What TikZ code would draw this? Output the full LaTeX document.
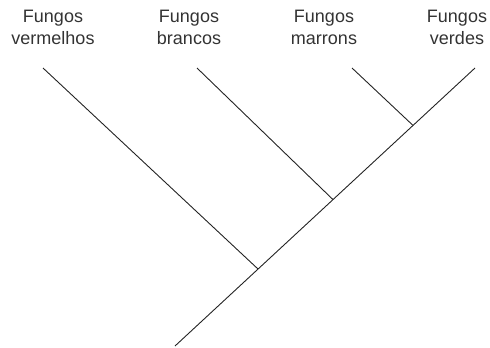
\documentclass[tikz,border=0pt]{standalone}
\usepackage{fontspec}
\setmainfont{Liberation Sans}
\definecolor{cctexto}{RGB}{51,51,51}
\definecolor{cclinha}{RGB}{35,35,35}

\begin{document}
\begin{tikzpicture}[x=1pt, y=-1pt, line width=0.9pt, draw=cclinha,
  especie/.style={align=center, text=cctexto, font=\fontsize{18}{22}\selectfont, inner sep=0pt}]

  \useasboundingbox (0,0) rectangle (490,348);

  % Labels
  \draw (53,27.5) node[especie] (vermelhos) {Fungos\\vermelhos};
  \draw (189,27.5) node[especie] (brancos) {Fungos\\brancos};
  \draw (324,27.5) node[especie] (marrons) {Fungos\\marrons};
  \draw (457,27.5) node[especie] (verdes) {Fungos\\verdes};

  % Leaves and nodes
  \coordinate (raiz) at (175,346);
  \coordinate (fVerm) at (43,68);
  \coordinate (fBran) at (197,68);
  \coordinate (fMarr) at (352,68);
  \coordinate (fVerd) at (475,68);
  \coordinate (n1) at (258,269);
  \coordinate (n2) at (333,199.6);
  \coordinate (n3) at (413,125.4);

  % Tree
  \draw (raiz) -- (fVerd);
  \draw (n1) -- (fVerm);
  \draw (n2) -- (fBran);
  \draw (n3) -- (fMarr);

\end{tikzpicture}
\end{document}
